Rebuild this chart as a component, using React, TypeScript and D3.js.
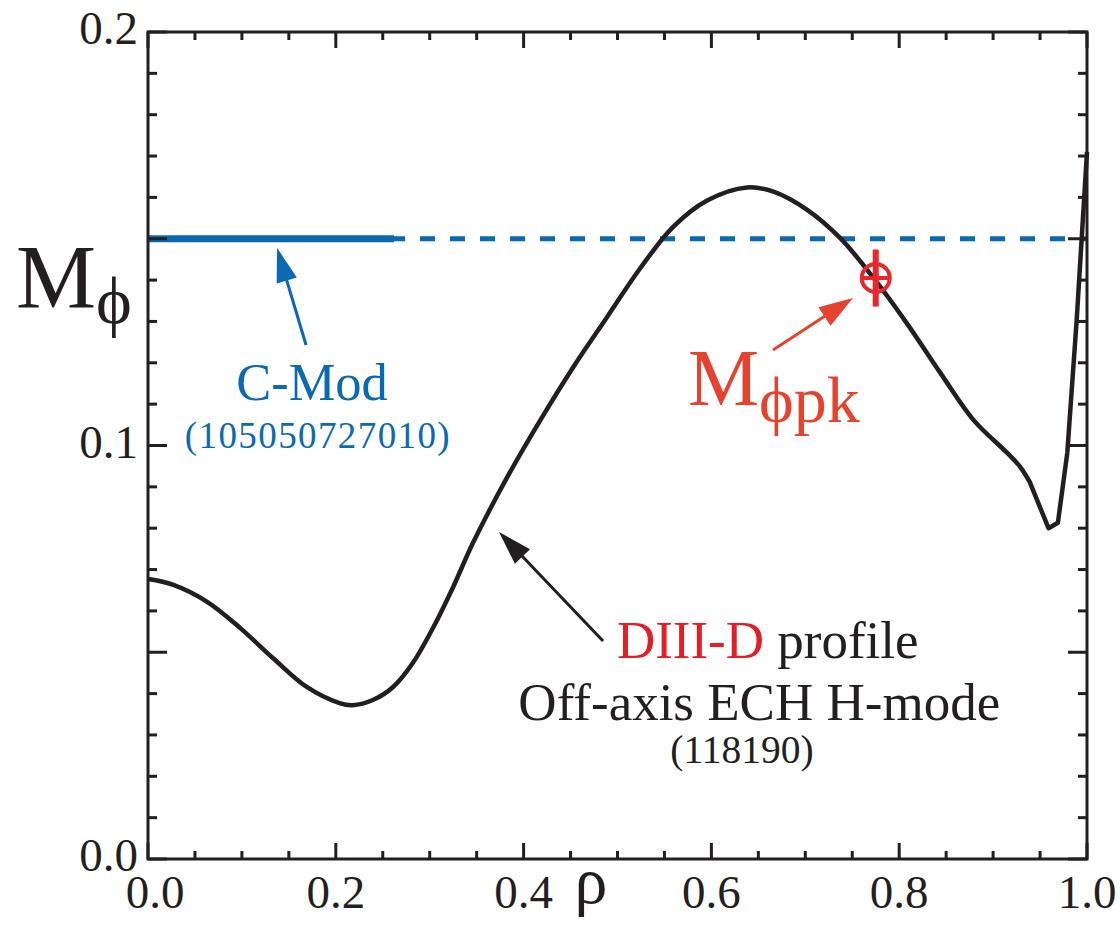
import React from "react";
import * as d3 from "d3";

// DIII-D toroidal Mach number profile, Off-axis ECH H-mode (118190)
const rhoValues = [
  0, 0.027, 0.063, 0.098, 0.133, 0.169, 0.204, 0.218, 0.24, 0.261, 0.282, 0.304,
  0.325, 0.346, 0.382, 0.418, 0.453, 0.489, 0.524, 0.559, 0.595, 0.638, 0.666,
  0.702, 0.737, 0.772, 0.808, 0.844, 0.879, 0.915, 0.929, 0.939, 0.959, 0.969,
  0.979, 0.989, 1.0,
];
const machValues = [
  0.0677, 0.0663, 0.0622, 0.0559, 0.0486, 0.0416, 0.0377, 0.0372, 0.0385, 0.0416,
  0.0474, 0.0561, 0.0658, 0.0764, 0.0921, 0.1062, 0.119, 0.1311, 0.1428, 0.1528,
  0.1592, 0.1624, 0.1614, 0.157, 0.1502, 0.1407, 0.1296, 0.1175, 0.1062, 0.0982,
  0.0948, 0.0912, 0.08, 0.0813, 0.0982, 0.1303, 0.171,
];
// Edge region (from this index on) is drawn as straight segments
const edgeStart = 31;

// C-Mod reference level (105050727010): measured core region and extension
const cmodLevel = 0.15;
const cmodCoreEnd = 0.262;

// Peak Mach number marker with vertical error bar
const peakRho = 0.775;
const peakMach = 0.1405;
const peakErr = 0.0069;

// Axis ticks
const xTickLabels = ["0.0", "0.2", "0.4", "0.6", "0.8", "1.0"];
const yTickLabels = ["0.0", "0.1", "0.2"];
const xMajor = [0, 0.2, 0.4, 0.6, 0.8, 1.0];
const xMinor = d3.range(0, 21).map((i) => i * 0.05);
const yMajor = [0, 0.05, 0.1, 0.15, 0.2];
const yMinor = d3.range(0, 21).map((i) => i * 0.01);
const yLabelValues = [0, 0.1, 0.2];

const FONT = "'Liberation Serif', 'Times New Roman', Times, serif";
const INK = "#231f20";
const BLUE = "#0a69b3";
const RED = "#e8262b";
const ORANGE_RED = "#e6432f";

const W = 1120;
const H = 925;
const left = 148;
const right = 1087;
const top = 32;
const bottom = 859;

function Arrow({ x1, y1, x2, y2, color, headLen, headW, sw }: any) {
  const dx = x2 - x1;
  const dy = y2 - y1;
  const len = Math.hypot(dx, dy);
  const ux = dx / len;
  const uy = dy / len;
  const bx = x2 - ux * headLen;
  const by = y2 - uy * headLen;
  const px = -uy * (headW / 2);
  const py = ux * (headW / 2);
  const pts = `${x2},${y2} ${bx + px},${by + py} ${bx - px},${by - py}`;
  return (
    <g>
      <line x1={x1} y1={y1} x2={bx + ux * 2} y2={by + uy * 2} stroke={color} strokeWidth={sw} />
      <polygon points={pts} fill={color} />
    </g>
  );
}

export default function App() {
  const x = d3.scaleLinear().domain([0, 1]).range([left, right]);
  const y = d3.scaleLinear().domain([0, 0.2]).range([bottom, top]);

  const pts: [number, number][] = rhoValues.map((r, i) => [x(r), y(machValues[i])]);
  const smoothPart = d3
    .line()
    .curve(d3.curveCatmullRom.alpha(0.5))(pts.slice(0, edgeStart + 1)) as string;
  const edgePart = d3.line()(pts.slice(edgeStart)) as string;
  const profile = smoothPart + "L" + edgePart.slice(1);

  const isMajorX = (v: number) => xMajor.some((m) => Math.abs(m - v) < 1e-6);
  const isMajorY = (v: number) => yMajor.some((m) => Math.abs(m - v) < 1e-6);

  const xMinLen = 8;
  const xMajLen = 16;
  const yMinLen = 9;
  const yMajLen = 19;

  return (
    <svg
      width={W}
      height={H}
      viewBox={`0 0 ${W} ${H}`}
      style={{ position: "absolute", left: 0, top: 0, background: "#fff", fontFamily: FONT }}
    >
      {/* C-Mod level: dashed extension and solid measured section */}
      <line
        x1={x(0)}
        x2={x(1)}
        y1={y(cmodLevel)}
        y2={y(cmodLevel)}
        stroke={BLUE}
        strokeWidth={5}
        strokeDasharray="15,15"
        strokeDashoffset={28}
      />
      <line
        x1={x(0)}
        x2={x(cmodCoreEnd)}
        y1={y(cmodLevel)}
        y2={y(cmodLevel)}
        stroke={BLUE}
        strokeWidth={7}
      />

      {/* DIII-D profile */}
      <path d={profile} fill="none" stroke={INK} strokeWidth={4.5} strokeLinejoin="round" />

      {/* Frame */}
      <rect x={left} y={top} width={right - left} height={bottom - top} fill="none" stroke={INK} strokeWidth={3} />

      {/* X ticks, bottom and top, inward */}
      {xMinor.map((v, i) => {
        const L = isMajorX(v) ? xMajLen : xMinLen;
        return (
          <g key={`xt${i}`} stroke={INK} strokeWidth={3}>
            <line x1={x(v)} x2={x(v)} y1={bottom} y2={bottom - L} />
            <line x1={x(v)} x2={x(v)} y1={top} y2={top + L} />
          </g>
        );
      })}
      {/* Y ticks, left and right, inward */}
      {yMinor.map((v, i) => {
        const L = isMajorY(v) ? yMajLen : yMinLen;
        return (
          <g key={`yt${i}`} stroke={INK} strokeWidth={3}>
            <line x1={left} x2={left + L} y1={y(v)} y2={y(v)} />
            <line x1={right} x2={right - L} y1={y(v)} y2={y(v)} />
          </g>
        );
      })}

      {/* Tick labels */}
      {xMajor.map((v, i) => (
        <text
          key={`xl${i}`}
          x={x(v) + (i === 0 ? 7 : 0)}
          y={908}
          textAnchor="middle"
          fontSize={47}
          fill={INK}
        >
          {xTickLabels[i]}
        </text>
      ))}
      {yLabelValues.map((v, i) => (
        <text key={`yl${i}`} x={138} y={y(v) + 12} textAnchor="end" fontSize={47} fill={INK}>
          {yTickLabels[i]}
        </text>
      ))}

      {/* Axis titles */}
      <text x={591} y={903} textAnchor="middle" fontSize={66} fill={INK}>
        ρ
      </text>
      <text x={16} y={308} fontSize={90} fill={INK}>
        M
        <tspan fontSize={68} dy={16}>
          ϕ
        </tspan>
      </text>

      {/* Peak marker */}
      <g stroke={RED} fill="none">
        <line
          x1={x(peakRho)}
          x2={x(peakRho)}
          y1={y(peakMach + peakErr)}
          y2={y(peakMach - peakErr)}
          strokeWidth={6}
        />
        <circle cx={x(peakRho)} cy={y(peakMach)} r={14} strokeWidth={4} />
        <line
          x1={x(peakRho) - 14}
          x2={x(peakRho) + 14}
          y1={y(peakMach)}
          y2={y(peakMach)}
          strokeWidth={4}
        />
      </g>

      {/* Annotations */}
      <Arrow x1={x(0.1683)} y1={y(0.1243)} x2={x(0.1374)} y2={y(0.1478)} color={BLUE} headLen={34} headW={21} sw={3} />
      <text x={x(0.1747)} y={y(0.111)} textAnchor="middle" fontSize={52.5} fill={BLUE}>
        C-Mod
      </text>
      <text x={x(0.181)} y={y(0.0994)} textAnchor="middle" fontSize={37} fill={BLUE} letterSpacing={1.4}>
        (105050727010)
      </text>

      <Arrow x1={x(0.4846)} y1={y(0.0527)} x2={x(0.3738)} y2={y(0.0791)} color={INK} headLen={34} headW={21} sw={3} />
      <text x={x(0.66)} y={y(0.0486)} textAnchor="middle" fontSize={53} fill={INK}>
        <tspan fill="#e41e26">DIII-D</tspan> profile
      </text>
      <text x={x(0.651)} y={y(0.0336)} textAnchor="middle" fontSize={53} fill={INK}>
        Off-axis ECH H-mode
      </text>
      <text x={x(0.6326)} y={y(0.0232)} textAnchor="middle" fontSize={39.5} fill={INK}>
        (118190)
      </text>

      <Arrow x1={x(0.6656)} y1={y(0.1231)} x2={x(0.7508)} y2={y(0.1357)} color={ORANGE_RED} headLen={34} headW={22} sw={3} />
      <text x={x(0.575)} y={y(0.1098)} fontSize={80} fill={ORANGE_RED}>
        M
        <tspan fontSize={66} dy={17}>
          ϕpk
        </tspan>
      </text>
    </svg>
  );
}
